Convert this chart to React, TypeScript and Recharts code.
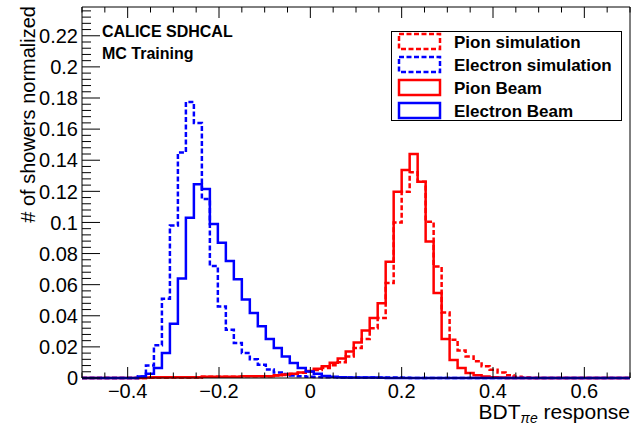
import { LineChart, Line, XAxis, YAxis } from "recharts";

// histogram binning (BDT response)
const binStart = -0.5;
const binWidth = 0.0175;
const xMax = 0.7;
const yMax = 0.2385;

const pionSim = [
  0, 0, 0, 0, 0, 0, 0, 0,
  0.0004, 0.0004, 0.0004, 0.0004, 0.0004, 0.0004, 0.0004, 0.0008, 0.0008, 0.0008,
  0.0008, 0.0008, 0.0012, 0.0012, 0.0012, 0.0012, 0.0016, 0.002, 0.0026, 0.0033,
  0.0042, 0.0052, 0.0065, 0.0082, 0.0102, 0.0139, 0.0193, 0.025, 0.032, 0.0385,
  0.061, 0.0999, 0.1198, 0.1322, 0.1262, 0.1005, 0.0716, 0.0421, 0.0246, 0.0177,
  0.0139, 0.0107, 0.0075, 0.0053, 0.0035, 0.0018, 0.0008, 0.0004, 0, 0,
  0, 0, 0, 0, 0, 0, 0, 0, 0, 0, 0,
];

const electronSim = [
  0, 0, 0, 0, 0, 0, 0,
  0.001, 0.008, 0.021, 0.051, 0.098, 0.145, 0.1775, 0.164, 0.115, 0.072,
  0.046, 0.031, 0.0225, 0.016, 0.012, 0.0085, 0.0055, 0.0036, 0.0025, 0.0016,
  0.0012, 0.0008, 0.0006, 0.0005, 0.0005, 0.0004, 0.0003, 0.0003, 0.0003, 0.0003,
  0.0003, 0.0003, 0.0003, 0.0002, 0, 0, 0, 0, 0, 0,
  0, 0, 0, 0, 0, 0, 0, 0, 0, 0,
  0, 0, 0, 0, 0, 0, 0, 0, 0, 0,
  0, 0,
];

const pionBeam = [
  0, 0, 0, 0, 0, 0, 0, 0,
  0.0003, 0.0005, 0.0005, 0.0005, 0.0005, 0.0005, 0.0005, 0.0008, 0.0008, 0.0008,
  0.0008, 0.0008, 0.0012, 0.0012, 0.0012, 0.0012, 0.0018, 0.0022, 0.0028, 0.0035,
  0.0045, 0.006, 0.0075, 0.0098, 0.0125, 0.0171, 0.0229, 0.0306, 0.0385, 0.0481,
  0.0748, 0.1198, 0.1337, 0.144, 0.1262, 0.0877, 0.0546, 0.025, 0.0115, 0.0064,
  0.0032, 0.0018, 0.001, 0.0005, 0.0003, 0, 0, 0, 0, 0,
  0, 0, 0, 0, 0, 0, 0, 0, 0, 0, 0,
];

const electronBeam = [
  0, 0, 0, 0, 0, 0, 0,
  0.001, 0.0028, 0.0064, 0.016, 0.0348, 0.064, 0.103, 0.1245, 0.1215, 0.099,
  0.087, 0.0752, 0.0635, 0.0505, 0.0418, 0.0333, 0.025, 0.0193, 0.0139, 0.0096,
  0.0064, 0.0042, 0.0028, 0.0013, 0.0008, 0.0005, 0.0003, 0.0003, 0.0003, 0.0003,
  0.0002, 0, 0, 0, 0, 0, 0, 0, 0, 0,
  0, 0, 0, 0, 0, 0, 0, 0, 0, 0,
  0, 0, 0, 0, 0, 0, 0, 0, 0, 0,
  0, 0,
];

const xMajorTicks = [-0.4, -0.2, 0, 0.2, 0.4, 0.6];
const yMajorTicks = [0, 0.02, 0.04, 0.06, 0.08, 0.1, 0.12, 0.14, 0.16, 0.18, 0.2, 0.22];

const legendLabels = ["Pion simulation", "Electron simulation", "Pion Beam", "Electron Beam"];
const legendColors = ["#ff0000", "#0000ff", "#ff0000", "#0000ff"];
const legendDashed = [true, true, false, false];

const FONT = '"Liberation Sans", Arial, Helvetica, sans-serif';
const DASH = "5 2.5";

const xMinorTicks: number[] = [];
for (let i = 0; i <= 24; i++) xMinorTicks.push(+(-0.5 + i * 0.05).toFixed(3));
const yMinorTicks: number[] = [];
for (let i = 0; i <= 59; i++) yMinorTicks.push(+(i * 0.004).toFixed(3));

const isMajor = (v: number, majors: number[]) => majors.some((m) => Math.abs(m - v) < 1e-6);

const fmtX = (v: number) => (v < 0 ? "\u2212" + Math.abs(v) : String(v));
const fmtY = (v: number) => String(+v.toFixed(2));

const data = pionSim.map((_, k) => ({
  x: binStart + k * binWidth,
  pionSim: pionSim[k],
  electronSim: electronSim[k],
  pionBeam: pionBeam[k],
  electronBeam: electronBeam[k],
}));
const last = pionSim.length - 1;
data.push({
  x: xMax,
  pionSim: pionSim[last],
  electronSim: electronSim[last],
  pionBeam: pionBeam[last],
  electronBeam: electronBeam[last],
});

function BottomTick({ x, y, payload }: any) {
  const major = isMajor(payload.value, xMajorTicks);
  return (
    <g>
      <line x1={x} x2={x} y1={y} y2={y - (major ? 11 : 5.5)} stroke="#000" />
      {major && (
        <text x={x} y={y + 20} textAnchor="middle" fontSize={20} fontFamily={FONT} fill="#000">
          {fmtX(payload.value)}
        </text>
      )}
    </g>
  );
}

function TopTick({ x, y, payload }: any) {
  const major = isMajor(payload.value, xMajorTicks);
  return <line x1={x} x2={x} y1={y} y2={y + (major ? 11 : 5.5)} stroke="#000" />;
}

function LeftTick({ x, y, payload }: any) {
  const major = isMajor(payload.value, yMajorTicks);
  return (
    <g>
      <line x1={x} x2={x + (major ? 18 : 9)} y1={y} y2={y} stroke="#000" />
      {major && (
        <text x={x - 4} y={y} dy="0.36em" textAnchor="end" fontSize={20} fontFamily={FONT} fill="#000">
          {fmtY(payload.value)}
        </text>
      )}
    </g>
  );
}

function RightTick({ x, y, payload }: any) {
  const major = isMajor(payload.value, yMajorTicks);
  return <line x1={x} x2={x - (major ? 17 : 8)} y1={y} y2={y} stroke="#000" />;
}

export default function App() {
  return (
    <div style={{ position: "absolute", left: 0, top: 0, width: 636, height: 427, background: "#fff" }}>
      <LineChart width={636} height={427} data={data} margin={{ top: 6, right: 5, bottom: 48, left: 81 }}>
        <XAxis
          xAxisId="bottom"
          dataKey="x"
          type="number"
          domain={[-0.5, xMax]}
          ticks={xMinorTicks}
          interval={0}
          height={1}
          tickSize={0}
          tickMargin={0}
          tickLine={false}
          axisLine={{ stroke: "#000" }}
          tick={BottomTick}
        />
        <XAxis
          xAxisId="top"
          orientation="top"
          dataKey="x"
          type="number"
          domain={[-0.5, xMax]}
          ticks={xMinorTicks}
          interval={0}
          height={1}
          tickSize={0}
          tickMargin={0}
          tickLine={false}
          axisLine={{ stroke: "#000" }}
          tick={TopTick}
        />
        <YAxis
          yAxisId="left"
          type="number"
          domain={[0, yMax]}
          ticks={yMinorTicks}
          interval={0}
          width={1}
          tickSize={0}
          tickMargin={0}
          tickLine={false}
          axisLine={{ stroke: "#000" }}
          tick={LeftTick}
        />
        <YAxis
          yAxisId="right"
          orientation="right"
          type="number"
          domain={[0, yMax]}
          ticks={yMinorTicks}
          interval={0}
          width={1}
          tickSize={0}
          tickMargin={0}
          tickLine={false}
          axisLine={{ stroke: "#000" }}
          tick={RightTick}
        />
        <Line xAxisId="bottom" yAxisId="left" type="stepAfter" dataKey="pionSim" stroke="#ff0000"
          strokeWidth={2.5} strokeDasharray={DASH} dot={false} isAnimationActive={false} />
        <Line xAxisId="bottom" yAxisId="left" type="stepAfter" dataKey="electronSim" stroke="#0000ff"
          strokeWidth={2.5} strokeDasharray={DASH} dot={false} isAnimationActive={false} />
        <Line xAxisId="bottom" yAxisId="left" type="stepAfter" dataKey="pionBeam" stroke="#ff0000"
          strokeWidth={2.5} dot={false} isAnimationActive={false} />
        <Line xAxisId="bottom" yAxisId="left" type="stepAfter" dataKey="electronBeam" stroke="#0000ff"
          strokeWidth={2.5} dot={false} isAnimationActive={false} />
      </LineChart>
      <svg width={636} height={427} style={{ position: "absolute", left: 0, top: 0, pointerEvents: "none" }}>
        <text transform="translate(35,6) rotate(-90)" textAnchor="end" fontSize={20} fontFamily={FONT} fill="#000">
          # of showers normalized
        </text>
        <text x={630} y={419} textAnchor="end" fontSize={21} fontFamily={FONT} fill="#000">
          BDT
          <tspan dy={4} fontSize={14} fontStyle="italic">πe</tspan>
          <tspan dy={-4}> response</tspan>
        </text>
        <text x={102} y={37} fontSize={16} fontWeight="bold" fontFamily={FONT} fill="#000">CALICE SDHCAL</text>
        <text x={102} y={59} fontSize={16} fontWeight="bold" fontFamily={FONT} fill="#000">MC Training</text>
        <rect x={391.5} y={31.5} width={230} height={89} fill="#fff" stroke="#000" />
        {legendLabels.map((label, i) => {
          const cy = 41.5 + i * 23;
          return (
            <g key={label}>
              <rect x={399} y={cy - 7.5} width={41} height={15} fill="none" stroke={legendColors[i]}
                strokeWidth={2.5} strokeDasharray={legendDashed[i] ? DASH : undefined} />
              <text x={454} y={cy + 6} fontSize={17} fontWeight="bold" fontFamily={FONT} fill="#000">{label}</text>
            </g>
          );
        })}
      </svg>
    </div>
  );
}
